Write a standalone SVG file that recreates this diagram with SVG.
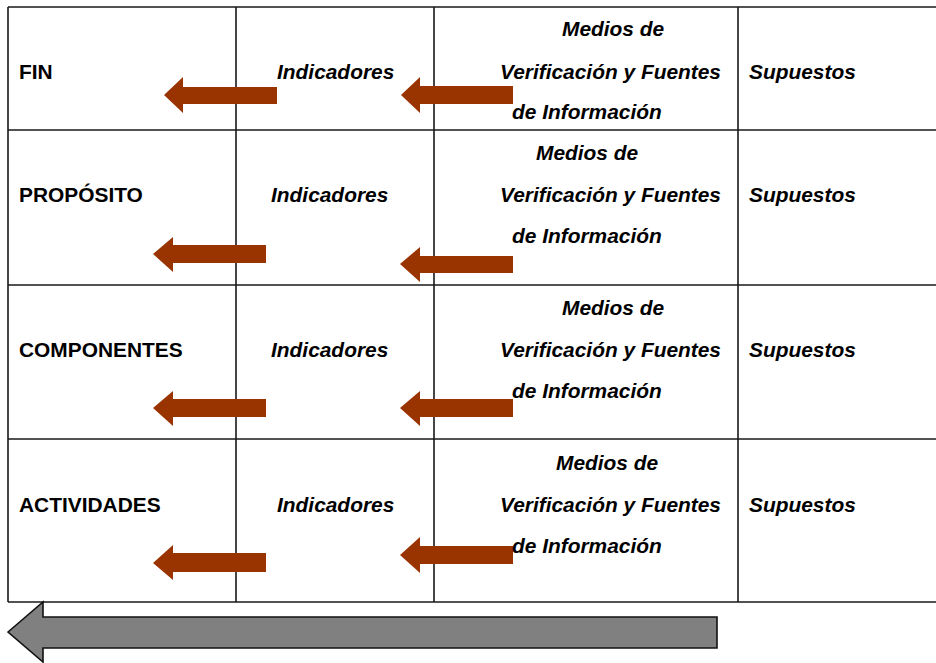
<svg xmlns="http://www.w3.org/2000/svg" width="936" height="663" viewBox="0 0 936 663">
<style>
.grid{stroke:#1a1a1a;stroke-width:1.6;fill:none}
.lbl{font-family:"Liberation Sans",Arial,sans-serif;font-weight:bold;font-size:20.9px;fill:#000}
.it{font-style:italic}
.brown{fill:#993300;stroke:none}
.gray{fill:#808080;stroke:#111;stroke-width:1.6}
</style>
<rect width="936" height="663" fill="#fff"/>
<g id="grid">
<path class="grid" d="M8,7 H940 M8,130 H940 M8,285 H940 M8,439 H940 M8,602 H940 M8,7 V602 M236,7 V602 M434,7 V602 M738,7 V602"/>
</g>
<g id="connectors">
<polygon class="brown" points="164,95 183,77 183,87 277,87 277,104 183,104 183,113"/>
<polygon class="brown" points="401,95 420,77 420,86 513,86 513,104 420,104 420,113"/>
<polygon class="brown" points="153,254 173,237 173,245 266,245 266,263 173,263 173,272"/>
<polygon class="brown" points="400,264 420,247 420,256 513,256 513,273 420,273 420,282"/>
<polygon class="brown" points="153,408 173,391 173,399 266,399 266,417 173,417 173,426"/>
<polygon class="brown" points="400,408 420,391 420,399 513,399 513,417 420,417 420,426"/>
<polygon class="brown" points="153,563 173,545 173,553 266,553 266,572 173,572 173,580"/>
<polygon class="brown" points="400,555 420,537 420,546 513,546 513,564 420,564 420,573"/>
<polygon class="gray" points="8,632 43,602 43,617 717,617 717,648 43,648 43,662"/>
</g>
<g id="row-fin">
<text class="lbl" x="19" y="79">FIN</text>
<text class="lbl it" x="277" y="79">Indicadores</text>
<text class="lbl it" x="562" y="36">Medios de</text>
<text class="lbl it" x="500" y="79">Verificación y Fuentes</text>
<text class="lbl it" x="512" y="119">de Información</text>
<text class="lbl it" x="749" y="79">Supuestos</text>
</g>
<g id="row-proposito">
<text class="lbl" x="19" y="202">PROPÓSITO</text>
<text class="lbl it" x="271" y="202">Indicadores</text>
<text class="lbl it" x="536" y="160">Medios de</text>
<text class="lbl it" x="500" y="202">Verificación y Fuentes</text>
<text class="lbl it" x="512" y="243">de Información</text>
<text class="lbl it" x="749" y="202">Supuestos</text>
</g>
<g id="row-componentes">
<text class="lbl" x="19" y="357">COMPONENTES</text>
<text class="lbl it" x="271" y="357">Indicadores</text>
<text class="lbl it" x="562" y="315">Medios de</text>
<text class="lbl it" x="500" y="357">Verificación y Fuentes</text>
<text class="lbl it" x="512" y="398">de Información</text>
<text class="lbl it" x="749" y="357">Supuestos</text>
</g>
<g id="row-actividades">
<text class="lbl" x="19" y="512">ACTIVIDADES</text>
<text class="lbl it" x="277" y="512">Indicadores</text>
<text class="lbl it" x="556" y="470">Medios de</text>
<text class="lbl it" x="500" y="512">Verificación y Fuentes</text>
<text class="lbl it" x="512" y="553">de Información</text>
<text class="lbl it" x="749" y="512">Supuestos</text>
</g>
</svg>
